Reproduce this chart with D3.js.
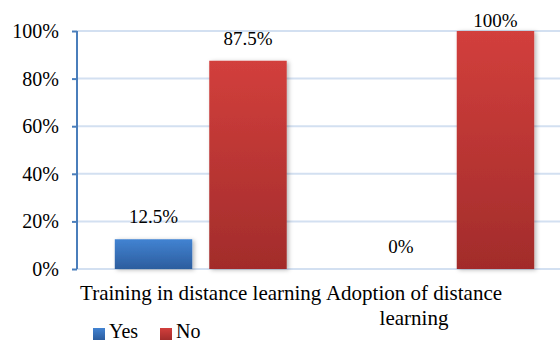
<!DOCTYPE html>
<html>
<head>
<meta charset="utf-8">
<script src="https://cdn.jsdelivr.net/npm/d3@7"></script>
<style>
  html, body { margin: 0; padding: 0; background: #fff; overflow: hidden; }
  svg { display: block; }
</style>
</head>
<body>
<svg id="chart" width="560" height="343"></svg>
<script>
// Survey results: share of respondents per answer
const categories = ["Training in distance learning", "Adoption of distance learning"];
const seriesNames = ["Yes", "No"];
const yesValues = [12.5, 0];
const noValues = [87.5, 100];
const yTicks = [0, 20, 40, 60, 80, 100];

const seriesValues = [yesValues, noValues];
const seriesColors = [
  { top: "#4283d2", bottom: "#2c5d9e" },
  { top: "#d23f3c", bottom: "#a22c2b" }
];
const FONT = "'Liberation Serif', 'Times New Roman', serif";

const W = 560, H = 343;
const svg = d3.select("#chart").style("font-family", FONT);
const defs = svg.append("defs");

seriesColors.forEach((c, i) => {
  const g = defs.append("linearGradient")
    .attr("id", "grad" + i)
    .attr("x1", 0).attr("y1", 0).attr("x2", 0).attr("y2", 1);
  g.append("stop").attr("offset", "0%").attr("stop-color", c.top);
  g.append("stop").attr("offset", "100%").attr("stop-color", c.bottom);
});

const shadow = defs.append("filter").attr("id", "shadow")
  .attr("x", "-20%").attr("y", "-20%").attr("width", "140%").attr("height", "140%");
shadow.append("feDropShadow")
  .attr("dx", 2).attr("dy", 1).attr("stdDeviation", 2)
  .attr("flood-color", "#000").attr("flood-opacity", 0.28);

const plotLeft = 77, plotRight = 572, plotTop = 31, plotBottom = 269;

const x0 = d3.scaleBand().domain(categories).range([plotLeft, plotRight]).paddingInner(0).paddingOuter(0);
const x1 = d3.scaleBand().domain(seriesNames).range([0, x0.bandwidth()]).paddingInner(0.18).paddingOuter(0.4);
const y = d3.scaleLinear().domain([0, 100]).range([plotBottom, plotTop]);

// Horizontal gridlines
svg.append("g")
  .selectAll("line")
  .data(yTicks)
  .join("line")
  .attr("x1", plotLeft).attr("x2", W)
  .attr("y1", d => y(d)).attr("y2", d => y(d))
  .attr("stroke", "#d3e0f1")
  .attr("stroke-width", 2);

// Y axis
const yAxis = svg.append("g")
  .attr("transform", `translate(${plotLeft},0)`)
  .call(d3.axisLeft(y).tickValues(yTicks).tickFormat(d => d + "%").tickSize(5).tickPadding(13));
yAxis.attr("font-family", null).style("font-family", FONT);
yAxis.select(".domain").attr("stroke", "#4a7ebb").attr("stroke-width", 2)
  .attr("d", `M0,${plotTop}V${plotBottom}`);
yAxis.selectAll(".tick line").attr("stroke", "#4a7ebb").attr("stroke-width", 2);
yAxis.selectAll(".tick text")
  .attr("fill", "#000")
  .attr("font-size", 20)
  .style("font-family", FONT);

// Bars
const groups = svg.append("g")
  .selectAll("g")
  .data(categories)
  .join("g")
  .attr("transform", d => `translate(${x0(d)},0)`);

const barData = (cat, ci) => seriesNames.map((s, si) => ({ s, si, v: seriesValues[si][ci] }));

groups.each(function (cat, ci) {
  const g = d3.select(this);
  const data = barData(cat, ci);
  g.selectAll("rect")
    .data(data.filter(d => d.v > 0))
    .join("rect")
    .attr("x", d => x1(d.s))
    .attr("width", x1.bandwidth())
    .attr("y", d => y(d.v))
    .attr("height", d => y(0) - y(d.v))
    .attr("fill", d => `url(#grad${d.si})`)
    .attr("filter", "url(#shadow)");

  g.selectAll("text.val")
    .data(data)
    .join("text")
    .attr("class", "val")
    .attr("x", d => x1(d.s) + x1.bandwidth() / 2)
    .attr("y", d => Math.max(y(d.v) - 16, plotTop - 4))
    .attr("text-anchor", "middle")
    .style("font-family", FONT)
    .attr("font-size", 19)
    .attr("fill", "#000")
    .text(d => d.v + "%");
});

// Category labels (wrapped, kept inside the chart area)
const catLabelLines = [["Training in distance learning"], ["Adoption of distance", "learning"]];
const catLabelX = [x0(categories[0]) + x0.bandwidth() / 2, 414];
catLabelLines.forEach((lines, i) => {
  const t = svg.append("text")
    .attr("text-anchor", "middle")
    .style("font-family", FONT)
    .attr("font-size", 21)
    .attr("fill", "#000");
  lines.forEach((ln, li) => {
    t.append("tspan")
      .attr("x", catLabelX[i])
      .attr("y", 300 + li * 25)
      .text(ln);
  });
});

// Legend
const legend = svg.append("g").attr("transform", "translate(93,328)");
const legendOffsets = [0, 67];
seriesNames.forEach((s, i) => {
  const lg = legend.append("g").attr("transform", `translate(${legendOffsets[i]},0)`);
  lg.append("rect").attr("width", 12).attr("height", 12).attr("fill", `url(#grad${i})`);
  lg.append("text").attr("x", 16).attr("y", 10).style("font-family", FONT)
    .attr("font-size", 20).attr("fill", "#000").text(s);
});
</script>
</body>
</html>
